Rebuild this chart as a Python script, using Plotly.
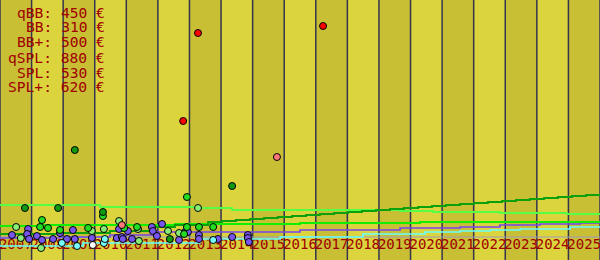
import plotly.graph_objects as go

# ---------------- data ----------------
years = list(range(2007, 2026))
year_labels = [str(y) for y in years]
label_level = 20  # value level at which the year labels sit

legend_names = ["qBB", "BB", "BB+", "qSPL", "SPL", "SPL+"]
legend_prices = [450, 310, 500, 880, 530, 620]

# step lines (x = decimal year, y = value)
dkgreen_x = [2007.00, 2008.90, 2010.48, 2011.75, 2012.54, 2013.59, 2014.03, 2014.47, 2014.92,
             2015.36, 2015.80, 2016.25, 2016.69, 2017.13, 2017.58, 2018.02, 2018.46, 2018.91,
             2019.35, 2019.79, 2020.24, 2020.68, 2021.12, 2021.57, 2022.01, 2022.45, 2022.90,
             2023.34, 2023.78, 2024.23, 2024.67, 2025.11, 2025.56, 2026.00]
dkgreen_y = [64, 68, 76, 92, 100, 112, 116, 120, 124, 128, 132, 136, 140, 144, 148, 152, 156, 160,
             164, 168, 172, 176, 180, 184, 188, 192, 196, 200, 204, 208, 212, 216, 220, 220]

ltgreen_x = [2007.00, 2010.17, 2013.33, 2014.35, 2019.67, 2020.71, 2022.83, 2024.95, 2026.00]
ltgreen_y = [180, 172, 168, 160, 156, 152, 148, 144, 144]

brgreen_x = [2007.00, 2008.27, 2012.54, 2016.50, 2020.30, 2026.00]
brgreen_y = [96, 100, 104, 108, 112, 112]

purple_x = [2007.00, 2008.90, 2010.48, 2011.91, 2016.50, 2019.67, 2021.57, 2022.83, 2024.10,
            2025.37, 2026.00]
purple_y = [48, 52, 60, 72, 80, 88, 92, 100, 104, 108, 108]

cyan_x = [2007.00, 2009.63, 2013.33, 2015.87, 2018.49, 2020.46, 2021.57, 2022.52, 2023.47,
          2025.05, 2026.00]
cyan_y = [16, 28, 44, 52, 64, 72, 76, 80, 84, 92, 92]

gray_x = [2007.00, 2026.00]
gray_y = [52, 52]

# scatter points
red_x = [2013.27, 2017.23, 2012.80]
red_y = [868, 896, 516]

salmon_x = [2015.77, 2010.86]
salmon_y = [372, 100]

dkgreen_pts_x = [2009.37, 2014.35, 2007.79, 2008.84, 2010.26, 2012.38]
dkgreen_pts_y = [400, 256, 168, 168, 152, 44]

brgreen_pts_x = [2012.92, 2008.33, 2008.27, 2008.52, 2010.26, 2009.79, 2010.93, 2011.34,
                 2012.92, 2013.30, 2013.75, 2012.83, 2008.90]
brgreen_pts_y = [212, 120, 92, 88, 136, 88, 88, 92, 92, 92, 92, 64, 80]

ltgreen_pts_x = [2013.27, 2007.51, 2007.66, 2008.30, 2009.91, 2010.29, 2010.77, 2011.40,
                 2012.32, 2012.67, 2011.37]
ltgreen_pts_y = [168, 92, 48, 8, 76, 84, 116, 36, 76, 68, 84]

purple_pts_x = [2007.89, 2007.38, 2007.86, 2007.92, 2008.17, 2008.33, 2008.68, 2008.90,
                2009.31, 2009.12, 2009.37, 2009.91, 2010.70, 2010.77, 2010.86, 2010.89,
                2011.05, 2011.18, 2011.81, 2012.13, 2011.84, 2011.97, 2012.67, 2012.86,
                2012.95, 2013.30, 2013.30, 2013.90, 2014.35, 2014.85, 2014.85, 2014.88]
purple_pts_y = [84, 60, 64, 44, 56, 40, 44, 68, 80, 44, 44, 48, 48, 84, 52, 44,
                76, 44, 92, 104, 76, 56, 40, 72, 72, 60, 44, 44, 52, 60, 48, 32]

cyan_pts_x = [2008.96, 2009.44, 2010.29, 2010.32, 2013.75]
cyan_pts_y = [28, 16, 28, 44, 40]

white_pts_x = [2009.94]
white_pts_y = [20]

# ---------------- styling ----------------
STRIPE_DARK = "#c9bf35"
STRIPE_LIGHT = "#dcd43d"
GRID = "#343450"
TEXT_RED = "#a00000"

fig = go.Figure()

# year labels at column centres, drawn first so lines and dots lie on top of them
fig.add_trace(go.Scatter(x=[y + 0.5 for y in years], y=[label_level] * len(years),
                         mode="text", text=year_labels, textposition="middle center",
                         textfont=dict(family="DejaVu Sans Mono", size=14, color=TEXT_RED),
                         hoverinfo="skip", showlegend=False, cliponaxis=False))

line_specs = [
    (gray_x, gray_y, "#9c9cc0", 1.2),
    (cyan_x, cyan_y, "#66ffff", 1.7),
    (purple_x, purple_y, "#7744ee", 1.7),
    (brgreen_x, brgreen_y, "#11ee00", 2),
    (ltgreen_x, ltgreen_y, "#55ff44", 1.8),
    (dkgreen_x, dkgreen_y, "#0ca00c", 2),
]
for xs, ys, col, w in line_specs:
    fig.add_trace(go.Scatter(x=xs, y=ys, mode="lines", line=dict(color=col, width=w, shape="hv"),
                             hoverinfo="skip", showlegend=False))

pt_specs = [
    (purple_pts_x, purple_pts_y, "#7755ee"),
    (cyan_pts_x, cyan_pts_y, "#77ffff"),
    (white_pts_x, white_pts_y, "#ffffff"),
    (ltgreen_pts_x, ltgreen_pts_y, "#88ee77"),
    (brgreen_pts_x, brgreen_pts_y, "#22dd22"),
    (dkgreen_pts_x, dkgreen_pts_y, "#119911"),
    (salmon_x, salmon_y, "#ff7777"),
    (red_x, red_y, "#ff0000"),
]
for xs, ys, col in pt_specs:
    fig.add_trace(go.Scatter(x=xs, y=ys, mode="markers",
                             marker=dict(color=col, size=7, line=dict(color="black", width=1)),
                             hoverinfo="skip", showlegend=False))

shapes = []
for i, y in enumerate(years):
    shapes.append(dict(type="rect", xref="x", yref="paper", x0=y, x1=y + 1, y0=0, y1=1,
                       fillcolor=STRIPE_DARK if i % 2 == 0 else STRIPE_LIGHT,
                       line=dict(width=0), layer="below"))
for y in years + [years[-1] + 1]:
    shapes.append(dict(type="line", xref="x", yref="paper", x0=y, x1=y, y0=0, y1=1,
                       line=dict(color=GRID, width=1.5), layer="below"))

annotations = []
for i, (n, p) in enumerate(zip(legend_names, legend_prices)):
    annotations.append(dict(text=f"{n}: {p} €", xref="paper", yref="paper",
                            x=107 / 600, y=1 - (12 + 15 * i) / 260,
                            xanchor="right", yanchor="middle", showarrow=False,
                            font=dict(family="DejaVu Sans Mono", size=14.6, color=TEXT_RED)))

fig.update_layout(
    width=600, height=260,
    margin=dict(l=0, r=0, t=0, b=0),
    paper_bgcolor=STRIPE_LIGHT, plot_bgcolor=STRIPE_LIGHT,
    shapes=shapes, annotations=annotations,
    xaxis=dict(range=[2007, 2026], showticklabels=False, ticks="", showgrid=False,
               zeroline=False, showline=False),
    yaxis=dict(range=[-40, 1000], visible=False, showgrid=False, zeroline=False),
)

fig.write_html("out.html", config={"displayModeBar": False})
